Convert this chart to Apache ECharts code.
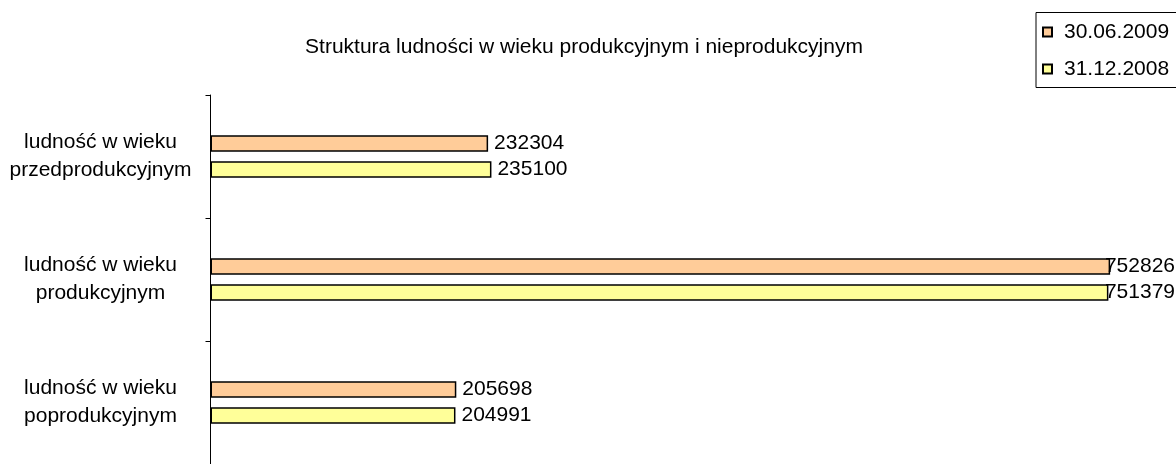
<!DOCTYPE html>
<html>
<head>
<meta charset="utf-8">
<script src="https://cdn.jsdelivr.net/npm/echarts@6/dist/echarts.min.js"></script>
<style>
html, body { margin: 0; padding: 0; background: #fff; }
#chart { width: 1176px; height: 464px; }
</style>
</head>
<body>
<div id="chart"></div>
<script>
var categories = ['ludność w wieku\nprzedprodukcyjnym', 'ludność w wieku\nprodukcyjnym', 'ludność w wieku\npoprodukcyjnym'];
var seriesNames = ['30.06.2009', '31.12.2008'];
var values2009 = [232304, 752826, 205698];
var values2008 = [235100, 751379, 204991];

var dom = document.getElementById("chart");
var myChart = echarts.init(dom);
var font = 'Liberation Sans, Arial, sans-serif';

var labelStyle = {
    show: true,
    position: 'right',
    distance: 6,
    color: '#000',
    fontFamily: font,
    fontSize: 21
};

// labels that run off the right edge are pulled back inside, like Excel does
function keepInside(params) {
    var r = params.labelRect;
    if (r.x + r.width > 1175) {
        return {
            x: 1175 - r.width,
            y: r.y + r.height / 2,
            align: 'left',
            verticalAlign: 'middle'
        };
    }
}

option = {
    animation: false,
    title: {
        text: 'Struktura ludności w wieku produkcyjnym i nieprodukcyjnym',
        left: 579,
        top: 32,
        textAlign: 'center',
        textStyle: { fontFamily: font, fontSize: 21, fontWeight: 'normal', color: '#000' }
    },
    legend: {
        orient: 'vertical',
        left: 1036,
        top: 12.5,
        data: seriesNames,
        icon: 'rect',
        itemWidth: 9,
        itemHeight: 9,
        itemGap: 16,
        padding: [9, 12, 8, 6],
        borderColor: '#000',
        borderWidth: 1,
        textStyle: { fontFamily: font, fontSize: 21, color: '#000', padding: [0, 0, 0, 7] }
    },
    grid: { left: 210.5, top: 95, width: 956, height: 369 },
    xAxis: {
        type: 'value',
        min: 0,
        max: 800000,
        show: false
    },
    yAxis: {
        type: 'category',
        inverse: true,
        data: categories,
        axisLine: { show: true, lineStyle: { color: '#000', width: 1 } },
        axisTick: { show: true, length: 5, lineStyle: { color: '#000' } },
        axisLabel: {
            margin: 110,
            align: 'center',
            fontFamily: font,
            fontSize: 21,
            lineHeight: 28,
            color: '#000'
        },
        splitLine: { show: false }
    },
    series: [
        {
            name: seriesNames[0],
            type: 'bar',
            data: values2009,
            barWidth: 16.5,
            barGap: '58%',
            itemStyle: { color: '#ffcc99', borderColor: '#000', borderWidth: 1.5 },
            label: labelStyle,
            labelLayout: keepInside
        },
        {
            name: seriesNames[1],
            type: 'bar',
            data: values2008,
            barWidth: 16.5,
            itemStyle: { color: '#ffff99', borderColor: '#000', borderWidth: 1.5 },
            label: labelStyle,
            labelLayout: keepInside
        }
    ]
};
if (option && typeof option === "object") {
    myChart.setOption(option, true);
}
</script>
</body>
</html>
